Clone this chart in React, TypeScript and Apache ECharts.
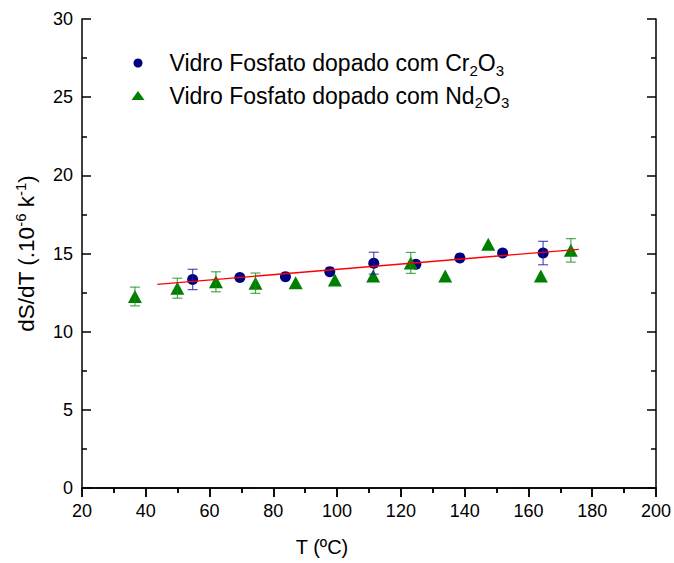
import React, { useEffect, useRef } from "react";
import * as echarts from "echarts";

const tempCr = [54.7, 69.5, 83.8, 97.7, 111.5, 124.7, 138.5, 151.9, 164.6];
const dsdtCr = [13.34, 13.46, 13.52, 13.84, 14.38, 14.31, 14.72, 15.03, 15.03];
const errCr = [0.65, 0, 0, 0, 0.7, 0, 0, 0, 0.75];

const tempNd = [36.6, 49.9, 62.0, 74.4, 87.0, 99.3, 111.3, 123.1, 133.9, 147.4, 163.9, 173.3];
const dsdtNd = [12.25, 12.78, 13.19, 13.1, 13.13, 13.3, 13.56, 14.4, 13.56, 15.59, 13.56, 15.2];
const errNd = [0.6, 0.64, 0.64, 0.65, 0, 0, 0, 0.67, 0, 0, 0, 0.75];

const fitT = [43.6, 175.8];
const fitV = [13.03, 15.27];

const xTicks = { min: 20, max: 200, interval: 20 };
const yTicks = { min: 0, max: 30, interval: 5 };

const FONT = "Liberation Sans, Arial, sans-serif";

function errorSeries(t: number[], v: number[], e: number[], color: string) {
  return {
    type: "custom",
    xAxisIndex: 0,
    yAxisIndex: 0,
    z: 4,
    silent: true,
    data: t.map((x, i) => [x, v[i], e[i]]),
    renderItem: (params: any, api: any) => {
      const x = api.value(0);
      const y = api.value(1);
      const err = api.value(2);
      if (!err) return { type: "group", children: [] };
      const hi = api.coord([x, y + err]);
      const lo = api.coord([x, y - err]);
      const cap = 5;
      const style = { stroke: color, lineWidth: 1.2, opacity: 0.75 };
      return {
        type: "group",
        children: [
          { type: "line", shape: { x1: hi[0], y1: hi[1], x2: lo[0], y2: lo[1] }, style },
          { type: "line", shape: { x1: hi[0] - cap, y1: hi[1], x2: hi[0] + cap, y2: hi[1] }, style },
          { type: "line", shape: { x1: lo[0] - cap, y1: lo[1], x2: lo[0] + cap, y2: lo[1] }, style },
        ],
      };
    },
  };
}

export default function App() {
  const ref = useRef<HTMLDivElement>(null);
  useEffect(() => {
    if (!ref.current) return;
    const chart = echarts.init(ref.current, undefined, { renderer: "svg" });
    const axisLine = { show: true, lineStyle: { color: "#000", width: 1.5 } };
    const tickStyle = { color: "#000", width: 1.5 };
    const option: any = {
      animation: false,
      backgroundColor: "#fff",
      grid: { left: 82, top: 19, width: 574, height: 469 },
      legend: {
        orient: "vertical",
        left: 131.5,
        top: 49,
        padding: 0,
        itemGap: 4,
        itemWidth: 13,
        itemHeight: 9,
        data: ["Cr", "Nd"],
        formatter: (name: string) =>
          name === "Cr"
            ? "{a|Vidro Fosfato dopado com Cr}{s|2}{a|O}{s|3}"
            : "{a|Vidro Fosfato dopado com Nd}{s|2}{a|O}{s|3}",
        textStyle: {
          padding: [0, 0, 0, 20],
          rich: {
            a: { fontSize: 23, lineHeight: 28, color: "#000", fontFamily: FONT },
            s: {
              fontSize: 15,
              lineHeight: 6,
              verticalAlign: "top",
              padding: [13.5, 0, 0, 0],
              color: "#000",
              fontFamily: FONT,
            },
          },
        },
      },
      xAxis: [
        {
          type: "value",
          position: "bottom",
          ...xTicks,
          axisLine,
          axisTick: { show: true, inside: false, length: 9, lineStyle: tickStyle },
          minorTick: { show: true, splitNumber: 2, length: 5, lineStyle: tickStyle },
          splitLine: { show: false },
          axisLabel: { fontSize: 18, color: "#000", margin: 14, fontFamily: FONT },
          name: "T (ºC)",
          nameLocation: "middle",
          nameGap: 49,
          nameTextStyle: { fontSize: 20, color: "#000", fontFamily: FONT, padding: [0, 94, 0, 0] },
        },
        {
          type: "value",
          position: "top",
          ...xTicks,
          axisLine,
          axisTick: { show: true, inside: true, length: 9, lineStyle: tickStyle },
          minorTick: { show: true, splitNumber: 2, length: 5, lineStyle: tickStyle },
          splitLine: { show: false },
          axisLabel: { show: false },
        },
      ],
      yAxis: [
        {
          type: "value",
          position: "left",
          ...yTicks,
          axisLine,
          axisTick: { show: true, inside: true, length: 9, lineStyle: tickStyle },
          minorTick: { show: true, splitNumber: 2, length: 5, lineStyle: tickStyle },
          splitLine: { show: false },
          axisLabel: { fontSize: 18, color: "#000", margin: 9, fontFamily: FONT },
          name: "{a|dS/dT (.10}{s|-6}{a| k}{s|-1}{a|)}",
          nameLocation: "middle",
          nameGap: 43,
          nameTextStyle: {
            rich: {
              a: { fontSize: 22.5, lineHeight: 26, color: "#000", fontFamily: FONT },
              s: { fontSize: 15, lineHeight: 6, verticalAlign: "top", color: "#000", fontFamily: FONT },
            },
          },
        },
        {
          type: "value",
          position: "right",
          ...yTicks,
          axisLine,
          axisTick: { show: true, inside: true, length: 9, lineStyle: tickStyle },
          minorTick: { show: true, splitNumber: 2, length: 5, lineStyle: tickStyle },
          splitLine: { show: false },
          axisLabel: { show: false },
        },
      ],
      series: [
        {
          name: "Cr",
          type: "scatter",
          xAxisIndex: 0,
          yAxisIndex: 0,
          symbol: "circle",
          symbolSize: 11,
          itemStyle: { color: "#000080", opacity: 1 },
          z: 2,
          data: tempCr.map((t, i) => [t, dsdtCr[i]]),
        },
        {
          name: "Nd",
          type: "scatter",
          xAxisIndex: 0,
          yAxisIndex: 0,
          symbol: "triangle",
          symbolSize: [14, 13],
          itemStyle: { color: "#008000", opacity: 1 },
          z: 3,
          data: tempNd.map((t, i) => [t, dsdtNd[i]]),
        },
        errorSeries(tempCr, dsdtCr, errCr, "#1a1a99"),
        errorSeries(tempNd, dsdtNd, errNd, "#1a8a1a"),
        {
          name: "fit",
          type: "line",
          xAxisIndex: 0,
          yAxisIndex: 0,
          symbol: "none",
          z: 5,
          lineStyle: { color: "#ff0000", width: 1.3 },
          data: fitT.map((t, i) => [t, fitV[i]]),
        },
      ],
    };
    chart.setOption(option);
    return () => chart.dispose();
  }, []);
  return (
    <div
      ref={ref}
      style={{ position: "fixed", left: 0, top: 0, width: 674, height: 563, background: "#fff" }}
    />
  );
}
